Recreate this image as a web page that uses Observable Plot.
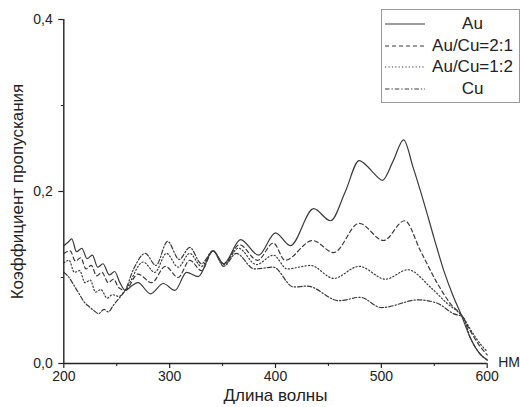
<!DOCTYPE html>
<html><head><meta charset="utf-8">
<script src="https://cdn.jsdelivr.net/npm/d3@7"></script>
<script src="https://cdn.jsdelivr.net/npm/@observablehq/plot@0.6"></script>
<style>
body{margin:0;background:#fff;font-family:"Liberation Sans",Arial,sans-serif}
#chart{position:relative;width:520px;height:407px}
#legend{position:absolute;left:381px;top:9px;width:137px;height:92px;border:1px solid #999;background:#fff}
#legend .row{position:absolute;left:0;width:137px;height:22px}
#legend svg{position:absolute;left:2px;top:0}
#legend span{position:absolute;left:44px;right:0;text-align:center;font-size:17px;line-height:22px;color:#222}
</style>
</head><body><div id="chart"></div>
<script>
// ---- data ----
const seriesNames = ["Au", "Au/Cu=2:1", "Au/Cu=1:2", "Cu"];

const auWl = [200,204,207.5,212,217,222,227,232,237,243,248,253,258,264,270,282,294,305,316,327,341,351,367,384,400,414,436,452,466,479,487,493,501,511,521,530,540,550,559,568,575,584,592,600];
const auT  = [0.137,0.141,0.145,0.130,0.134,0.122,0.126,0.112,0.116,0.103,0.107,0.094,0.085,0.090,0.094,0.081,0.093,0.085,0.106,0.101,0.131,0.116,0.144,0.126,0.152,0.137,0.180,0.166,0.200,0.236,0.229,0.221,0.213,0.235,0.260,0.228,0.188,0.145,0.108,0.078,0.058,0.030,0.013,0.004];

const au21Wl = [200,206,211,216,221,226,231,236,242,247,252,258,270,283,296,308,319,330,341,351,366,383,398,409,435,455,479,502,522,537,553,565,577,584,592,600];
const au21T  = [0.128,0.131,0.119,0.123,0.110,0.114,0.102,0.106,0.094,0.098,0.088,0.085,0.104,0.094,0.113,0.100,0.120,0.108,0.131,0.116,0.138,0.120,0.140,0.120,0.143,0.129,0.163,0.143,0.166,0.131,0.093,0.070,0.054,0.038,0.022,0.010];

const au12Wl = [200,205,210,215,220,225,230,235,241,246,252,258,275,286,297,308,319,330,341,351,365,382,398,411,433,455,479,504,525,547,562,577,586,594,600];
const au12T  = [0.117,0.120,0.106,0.108,0.094,0.097,0.083,0.086,0.076,0.080,0.078,0.085,0.118,0.106,0.128,0.112,0.128,0.113,0.131,0.115,0.134,0.115,0.126,0.110,0.114,0.099,0.113,0.098,0.109,0.088,0.070,0.054,0.036,0.022,0.014];

const cuWl = [200,205,210,214,219,224,228,233,238,242,247,253,258,266,277,287,298,309,319,330,341,351,363,380,398,417,430,460,480,500,535,553,568,577,584,592,600];
const cuT  = [0.106,0.100,0.090,0.082,0.072,0.066,0.062,0.058,0.063,0.060,0.068,0.077,0.085,0.110,0.128,0.114,0.142,0.121,0.135,0.116,0.131,0.113,0.128,0.110,0.112,0.089,0.090,0.073,0.077,0.065,0.074,0.070,0.058,0.054,0.030,0.013,0.004];

const xTicks = [200, 300, 400, 500, 600];
const xMinor = [250, 350, 450, 550];
const yTicks = [0, 0.2, 0.4];
const yMinor = [0.1, 0.3];
const xLabel = "Длина волны";
const yLabel = "Коэффициент пропускания";
const unitLabel = "НМ";

// ---- build table ----
const sources = [[auWl, auT], [au21Wl, au21T], [au12Wl, au12T], [cuWl, cuT]];
const rows = sources.flatMap(([w, t], k) => w.map((wl, i) => ({series: seriesNames[k], wl, t: t[i]})));

const dashes = {"Au": null, "Au/Cu=2:1": "4,3", "Au/Cu=1:2": "1.2,2.2", "Cu": "4.5,2,1.3,2"};
const ink = "#3a3a3a";
const fmt = d => d.toFixed(1).replace(".", ",");
const font = "Liberation Sans, Arial, sans-serif";

const lines = seriesNames.map(s => Plot.line(rows.filter(r => r.series === s), {
  x: "wl", y: "t", curve: "monotone-x", stroke: ink, strokeWidth: 1.2,
  strokeDasharray: dashes[s]
}));

const chart = Plot.plot({
  width: 520, height: 407,
  marginLeft: 63.3, marginRight: 33.3, marginTop: 19, marginBottom: 44,
  style: {fontFamily: font, background: "#fff", color: "#222"},
  x: {domain: [200, 600]},
  y: {domain: [0, 0.4]},
  marks: [
    ...lines,
    Plot.ruleX([200], {stroke: "#222", strokeWidth: 1.4}),
    Plot.ruleY([0], {stroke: "#222", strokeWidth: 1.4}),
    Plot.axisY(yTicks, {tickSize: 5, tickPadding: 6, tickFormat: fmt, fontSize: 14, label: null, stroke: "#222", strokeWidth: 1.2}),
    Plot.axisY(yMinor, {tickSize: 2.5, tickFormat: () => "", label: null, stroke: "#222"}),
    Plot.axisX(xTicks, {tickSize: 5, tickPadding: 3, fontSize: 14, label: null, stroke: "#222", strokeWidth: 1.2}),
    Plot.axisX(xMinor, {tickSize: 3, tickFormat: () => "", label: null, stroke: "#222"}),
    Plot.text([xLabel], {frameAnchor: "bottom", dy: 37, fontSize: 17, fill: "#222", lineAnchor: "bottom"}),
    Plot.text([yLabel], {frameAnchor: "left", dx: -46, rotate: -90, textAnchor: "middle", lineAnchor: "middle", fontSize: 17, fill: "#222"}),
    Plot.text([unitLabel], {frameAnchor: "bottom-right", dx: 11, dy: 3, textAnchor: "start", fontSize: 14, fill: "#222"})
  ]
});

const root = document.getElementById("chart");
root.appendChild(chart);

// legend (inside the plot area, top right)
const legend = document.createElement("div");
legend.id = "legend";
seriesNames.forEach((s, i) => {
  const row = document.createElement("div");
  row.className = "row";
  row.style.top = (3 + i * 21.7) + "px";
  const svg = d3.create("svg").attr("width", 42).attr("height", 22);
  svg.append("line").attr("x1", 1).attr("x2", 41).attr("y1", 11).attr("y2", 11)
    .attr("stroke", ink).attr("stroke-width", 1.2)
    .attr("stroke-dasharray", dashes[s]);
  row.appendChild(svg.node());
  const label = document.createElement("span");
  label.textContent = s;
  row.appendChild(label);
  legend.appendChild(row);
});
root.appendChild(legend);
</script>
</body></html>
